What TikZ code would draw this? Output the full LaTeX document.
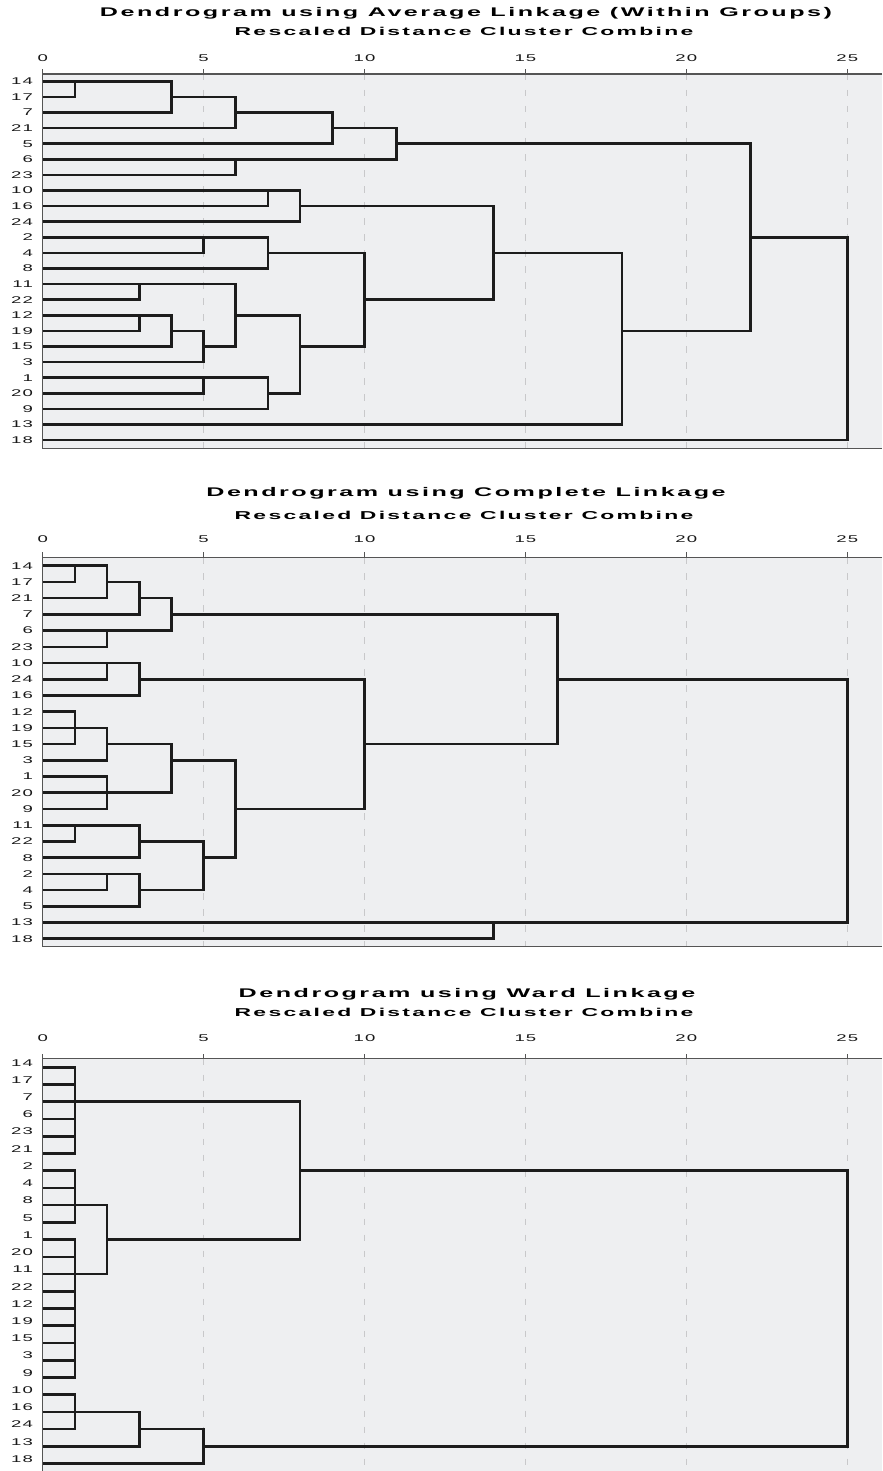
\documentclass[tikz,border=0pt]{standalone}
\usepackage{fontspec}
\newfontfamily\hdrfont[FakeStretch=2.0,LetterSpace=20]{Liberation Sans}
\newfontfamily\lblfont[FakeStretch=1.9,LetterSpace=12]{Liberation Sans}
\definecolor{panelbg}{RGB}{238,239,241}
\definecolor{inkline}{RGB}{28,28,28}
\definecolor{axisgray}{RGB}{85,85,85}
\definecolor{gridgray}{RGB}{200,200,202}
\tikzset{
	tree/.style={line width=2.6bp, color=inkline, line join=miter},
	axis/.style={line width=1.4bp, color=axisgray},
	gridline/.style={line width=1.3bp, color=gridgray, dash pattern=on 6.5bp off 9.5bp},
	hdr/.style={font=\hdrfont\bfseries\fontsize{12.6}{14}\selectfont, inner sep=0pt},
	sub/.style={font=\hdrfont\bfseries\fontsize{11.5}{13}\selectfont, inner sep=0pt},
	tick/.style={font=\lblfont\fontsize{9.8}{11}\selectfont, inner sep=0pt, text=black!90},
	rowlbl/.style={font=\lblfont\fontsize{9.8}{11}\selectfont, inner sep=0pt, anchor=east, text=black!90}
}
\def\fuse(#1:#2)(#3:#4)(#5){\draw[tree] (#2,#1) -| (#5,#3) -- (#4,#3);}

\begin{document}
\begin{tikzpicture}[x=1bp,y=-1bp]
	%%%%% FRAMES %%%%%
	\fill[white] (0,0) rectangle (882,1471);
	\useasboundingbox (0,0) rectangle (882,1471);
	
	\foreach \top/\bot/\ty in {74/448.3/58.3, 557.3/946.7/538.8, 1058.7/1473/1038.3}{
		\fill[panelbg] (42.7,\top) rectangle (882,\bot);
		\foreach \t in {5,10,...,25}
			\draw[gridline] ({42.7+32.18*\t},\top) -- ({42.7+32.18*\t},\bot);
		\draw[axis] (882,\top) -- (42.7,\top) -- (42.7,\bot) -- (882,\bot);
		\foreach \t in {0,5,...,25}{
			\draw[axis] ({42.7+32.18*\t},\top) -- ++(0,-5);
			\node[tick] (tk-\ty-\t) at ({42.7+32.18*\t},\ty) {\t};
		}
	}
	
	%%%%% AVERAGE LINKAGE %%%%%
	\node[hdr] (avg-title) at (466,13.7) {Dendrogram using Average Linkage (Within Groups)};
	\node[sub] (avg-sub) at (464,31.2) {Rescaled Distance Cluster Combine};
	
	\begin{scope}[shift={(42.7,81.3)}, x=32.18bp, y=-15.6bp]
		\foreach \lbl [count=\i from 0] in {14,17,7,21,5,6,23,10,16,24,2,4,8,11,22,12,19,15,3,1,20,9,13,18}
			\node[rowlbl] (avg-\i) at (-0.3,\i) {\lbl};
		
		\fuse(0:0)(1:0)(1)
		\fuse(0:1)(2:0)(4)
		\fuse(1:4)(3:0)(6)
		\fuse(2:6)(4:0)(9)
		\fuse(5:0)(6:0)(6)
		\fuse(3:9)(5:6)(11)
		\fuse(7:0)(8:0)(7)
		\fuse(7:7)(9:0)(8)
		\fuse(10:0)(11:0)(5)
		\fuse(10:5)(12:0)(7)
		\fuse(13:0)(14:0)(3)
		\fuse(15:0)(16:0)(3)
		\fuse(15:3)(17:0)(4)
		\fuse(16:4)(18:0)(5)
		\fuse(13:3)(17:5)(6)
		\fuse(19:0)(20:0)(5)
		\fuse(19:5)(21:0)(7)
		\fuse(15:6)(20:7)(8)
		\fuse(11:7)(17:8)(10)
		\fuse(8:8)(14:10)(14)
		\fuse(11:14)(22:0)(18)
		\fuse(4:11)(16:18)(22)
		\fuse(10:22)(23:0)(25)
	\end{scope}
	
	%%%%% COMPLETE LINKAGE %%%%%
	\node[hdr] (com-title) at (466,493.3) {Dendrogram using Complete Linkage};
	\node[sub] (com-sub) at (464,515) {Rescaled Distance Cluster Combine};
	
	\begin{scope}[shift={(42.7,565.7)}, x=32.18bp, y=-16.22bp]
		\foreach \lbl [count=\i from 0] in {14,17,21,7,6,23,10,24,16,12,19,15,3,1,20,9,11,22,8,2,4,5,13,18}
			\node[rowlbl] (com-\i) at (-0.3,\i) {\lbl};
		
		\fuse(0:0)(1:0)(1)
		\fuse(0:1)(2:0)(2)
		\fuse(1:2)(3:0)(3)
		\fuse(4:0)(5:0)(2)
		\fuse(2:3)(4:2)(4)
		\fuse(6:0)(7:0)(2)
		\fuse(6:2)(8:0)(3)
		\fuse(9:0)(10:0)(1)
		\fuse(9:1)(11:0)(1)
		\fuse(10:1)(12:0)(2)
		\fuse(13:0)(14:0)(2)
		\fuse(13:2)(15:0)(2)
		\fuse(11:2)(14:2)(4)
		\fuse(16:0)(17:0)(1)
		\fuse(16:1)(18:0)(3)
		\fuse(19:0)(20:0)(2)
		\fuse(19:2)(21:0)(3)
		\fuse(17:3)(20:3)(5)
		\fuse(12:4)(18:5)(6)
		\fuse(7:3)(15:6)(10)
		\fuse(3:4)(11:10)(16)
		\fuse(22:0)(23:0)(14)
		\fuse(7:16)(22:14)(25)
	\end{scope}
	
	%%%%% WARD LINKAGE %%%%%
	\node[hdr] (war-title) at (467,993.8) {Dendrogram using Ward Linkage};
	\node[sub] (war-sub) at (464,1012.5) {Rescaled Distance Cluster Combine};
	
	\begin{scope}[shift={(42.7,1067.3)}, x=32.18bp, y=-17.23bp]
		\foreach \lbl [count=\i from 0] in {14,17,7,6,23,21,2,4,8,5,1,20,11,22,12,19,15,3,9,10,16,24,13,18}
			\node[rowlbl] (war-\i) at (-0.3,\i-0.27) {\lbl};
		
		\foreach \r in {1,...,4,7,8,11,12,...,17,20}
			\draw[tree] (0,\r) -- (1,\r);
		\fuse(0:0)(5:0)(1)
		\fuse(6:0)(9:0)(1)
		\fuse(10:0)(18:0)(1)
		\fuse(19:0)(21:0)(1)
		\fuse(8:1)(12:1)(2)
		\fuse(2:1)(10:2)(8)
		\fuse(20:1)(22:0)(3)
		\fuse(21:3)(23:0)(5)
		\fuse(6:8)(22:5)(25)
	\end{scope}
\end{tikzpicture}
\end{document}
